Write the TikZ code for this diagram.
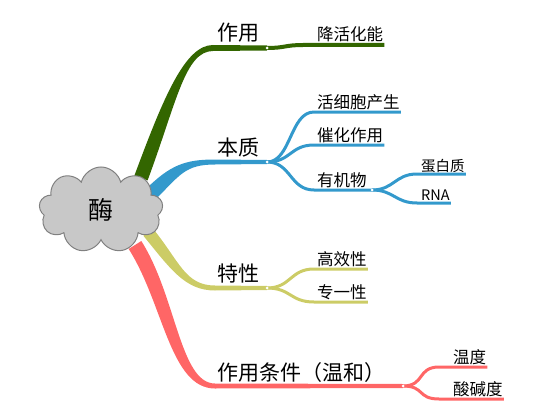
\documentclass[tikz,border=0pt]{standalone}
\usepackage{fontspec}
\setmainfont{Noto Sans CJK SC}
\usetikzlibrary{shapes.symbols,calc}

\definecolor{zygreen}{RGB}{51,102,0}
\definecolor{bzblue}{RGB}{51,153,204}
\definecolor{txolive}{RGB}{204,204,102}
\definecolor{tjred}{RGB}{255,102,102}
\definecolor{cloudgray}{RGB}{200,200,200}

\begin{document}
\begin{tikzpicture}[x=1pt,y=-1pt,
    topic/.style={font=\fontsize{21}{21}\selectfont, anchor=base west, inner sep=0pt},
    sub/.style={font=\fontsize{16.5}{16.5}\selectfont, anchor=base west, inner sep=0pt},
    leaf/.style={font=\fontsize{14.5}{14.5}\selectfont, anchor=base west, inner sep=0pt},
    twig/.style={line width=3pt},
    joint/.style={circle, fill=white, inner sep=0pt, minimum size=3pt}
]
\useasboundingbox (0,0) rectangle (549,404);

% main branches
\fill[zygreen] (147.6,180.4) .. controls (176.6,102.4) and (185,51) .. (213,51)
  -- (267,50.5) -- (267,45.5) -- (213,45)
  .. controls (185,45) and (163.4,97.6) .. (134.4,175.6) -- cycle;
\fill[bzblue] (155,200) .. controls (180,175) and (185,164.5) .. (215,164.5)
  -- (267,164) -- (267,160) -- (215,159.5)
  .. controls (185,159.5) and (170,165) .. (145,190) -- cycle;
\fill[txolive] (152.6,228.2) .. controls (179.6,261.2) and (185,285.5) .. (215,285.5)
  -- (267,286) -- (267,290) -- (215,290.5)
  .. controls (185,290.5) and (170.4,268.8) .. (143.4,235.8) -- cycle;
\fill[tjred] (141.3,241) .. controls (176.3,296) and (180,383.5) .. (215,383.5)
  -- (403,384) -- (403,388) -- (215,388.5)
  .. controls (170,388.5) and (163.7,304) .. (128.7,249) -- cycle;

\node[cloud, cloud puffs=9, draw=gray, fill=cloudgray, line width=1pt,
  minimum width=124pt, minimum height=86pt,
  font=\fontsize{25}{25}\selectfont] (mei) at (101,210) {酶};

% labels
\node[topic] (zy) at (217,41) {作用};
\node[topic] (bz) at (217,155) {本质};
\node[topic] (tx) at (217,281) {特性};
\node[topic] (tj) at (217,380) {作用条件（温和）};

\node[sub] (jhn) at (317,41) {降活化能};
\node[sub] (hxb) at (317,108) {活细胞产生};
\node[sub] (chzy) at (317,141) {催化作用};
\node[sub] (yjw) at (317,186) {有机物};
\node[leaf] (dbz) at (421,171) {蛋白质};
\node[leaf] (rna) at (421,200) {RNA};
\node[sub] (gx) at (317,265) {高效性};
\node[sub] (zyx) at (317,298) {专一性};
\node[sub] (wd) at (453,363) {温度};
\node[sub] (sjd) at (453,395) {酸碱度};

% sub branches
\coordinate (jzy) at (267,48);
\coordinate (jbz) at (267,162);
\coordinate (jyj) at (372,190);
\coordinate (jtx) at (267,288);
\coordinate (jtj) at (403,386);

\draw[zygreen, line width=4pt] (jzy) .. controls +(18,0) and +(-18,0) .. ($(jhn.base west)+(-14,4)$)
  -- ($(jhn.base east)+(1,4)$);
\foreach \n in {hxb,chzy}
  \draw[bzblue, twig] (jbz) .. controls +(24,0) and +(-24,0) .. ($(\n.base west)+(-3,4)$)
    -- ($(\n.base east)+(1,4)$);
\draw[bzblue, twig] (jbz) .. controls +(24,0) and +(-24,0) .. ($(yjw.base west)+(-3,4)$)
  -- (jyj);
\foreach \n in {dbz,rna}
  \draw[bzblue, twig] (jyj) .. controls +(22,0) and +(-22,0) .. ($(\n.base west)+(-4,3)$)
    -- ($(\n.base east)+(1,3)$);
\foreach \n in {gx,zyx}
  \draw[txolive, twig] (jtx) .. controls +(24,0) and +(-24,0) .. ($(\n.base west)+(-3,4)$)
    -- ($(\n.base east)+(1,4)$);
\foreach \n in {wd,sjd}
  \draw[tjred, twig] (jtj) .. controls +(22,0) and +(-22,0) .. ($(\n.base west)+(-14,4)$)
    -- ($(\n.base east)+(1,4)$);

% joints
\foreach \j in {jzy,jbz,jyj,jtx,jtj}
  \node[joint] at (\j) {};
\end{tikzpicture}
\end{document}
